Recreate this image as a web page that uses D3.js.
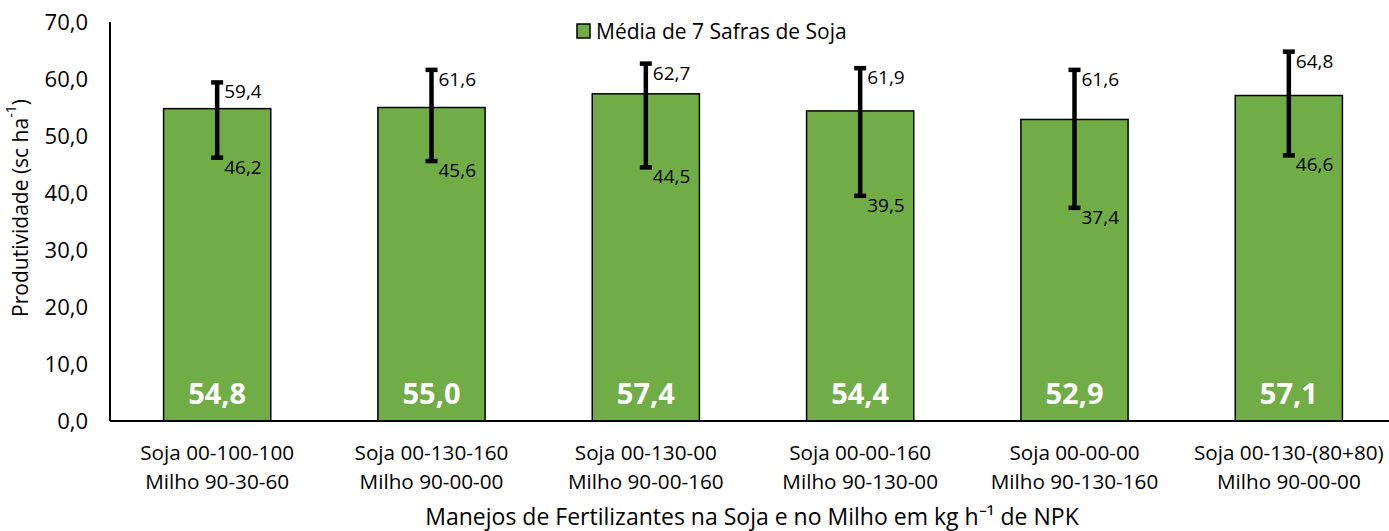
<!DOCTYPE html>
<html>
<head>
<meta charset="utf-8">
<script src="https://cdn.jsdelivr.net/npm/d3@7"></script>
<style>
  body { margin: 0; background: #fff; }
  svg { display: block; font-family: "Open Sans", sans-serif; }
</style>
</head>
<body>
<div id="chart"></div>
<script>
// Categories (two-line labels) and values.
const categories = [
  ['Soja 00-100-100', 'Milho 90-30-60'],
  ['Soja 00-130-160', 'Milho 90-00-00'],
  ['Soja 00-130-00', 'Milho 90-00-160'],
  ['Soja 00-00-160', 'Milho 90-130-00'],
  ['Soja 00-00-00', 'Milho 90-130-160'],
  ['Soja 00-130-(80+80)', 'Milho 90-00-00']
];
const means = [54.8, 55.0, 57.4, 54.4, 52.9, 57.1];
const highs = [59.4, 61.6, 62.7, 61.9, 61.6, 64.8];
const lows = [46.2, 45.6, 44.5, 39.5, 37.4, 46.6];
const yTicks = [0, 10, 20, 30, 40, 50, 60, 70];

const width = 1389, height = 531;
const margin = {top: 22, right: -7, bottom: 110, left: 110};
const fmt = v => v.toFixed(1).replace('.', ',');

const svg = d3.select('#chart').append('svg')
  .attr('width', width).attr('height', height);

const x = d3.scaleBand()
  .domain(d3.range(categories.length))
  .range([margin.left, width - margin.right])
  .paddingInner(0.5).paddingOuter(0.25);

const y = d3.scaleLinear()
  .domain([0, 70])
  .range([height - margin.bottom, margin.top]);

const green = '#70AD47';

// Y axis tick labels, no tick marks
const yAxis = svg.append('g')
  .attr('transform', `translate(${margin.left},0)`)
  .call(d3.axisLeft(y).tickValues(yTicks).tickSize(0).tickPadding(22).tickFormat(fmt));
yAxis.select('.domain').remove();
yAxis.selectAll('text').attr('font-size', 22).attr('fill', '#000').attr('font-family', '"Open Sans", sans-serif');

// Bars
const data = means.map((m, i) => ({i, m, hi: highs[i], lo: lows[i]}));

svg.append('g').selectAll('rect')
  .data(data).join('rect')
  .attr('x', d => x(d.i))
  .attr('y', d => y(d.m))
  .attr('width', x.bandwidth())
  .attr('height', d => y(0) - y(d.m))
  .attr('fill', green)
  .attr('stroke', '#000')
  .attr('stroke-width', 1.5);

// Axis lines
svg.append('line')
  .attr('x1', margin.left).attr('x2', margin.left)
  .attr('y1', y(70)).attr('y2', y(0))
  .attr('stroke', '#000').attr('stroke-width', 2);
svg.append('line')
  .attr('x1', margin.left).attr('x2', width)
  .attr('y1', y(0)).attr('y2', y(0))
  .attr('stroke', '#000').attr('stroke-width', 2);

// Mean labels inside bars
svg.append('g').selectAll('text')
  .data(data).join('text')
  .attr('x', d => x(d.i) + x.bandwidth() / 2)
  .attr('y', y(0) - 29)
  .attr('text-anchor', 'middle')
  .attr('dominant-baseline', 'central')
  .attr('fill', '#fff')
  .attr('font-weight', 'bold')
  .attr('font-size', 29)
  .text(d => fmt(d.m));

// Error bars
const eb = svg.append('g').selectAll('g')
  .data(data).join('g')
  .attr('transform', d => `translate(${x(d.i) + x.bandwidth() / 2},0)`);

eb.append('line')
  .attr('y1', d => y(d.hi)).attr('y2', d => y(d.lo))
  .attr('stroke', '#000').attr('stroke-width', 4.5);
eb.selectAll('line.cap')
  .data(d => [d.hi, d.lo]).join('line')
  .attr('class', 'cap')
  .attr('x1', -6).attr('x2', 6)
  .attr('y1', v => y(v)).attr('y2', v => y(v))
  .attr('stroke', '#000').attr('stroke-width', 4.5);
eb.selectAll('text')
  .data(d => [d.hi, d.lo]).join('text')
  .attr('x', 7)
  .attr('y', v => y(v) + 9)
  .attr('dominant-baseline', 'central')
  .attr('font-size', 19)
  .attr('fill', '#000')
  .text(v => fmt(v));

// Category labels
const cat = svg.append('g').selectAll('text')
  .data(categories).join('text')
  .attr('x', (d, i) => x(i) + x.bandwidth() / 2)
  .attr('y', 453)
  .attr('text-anchor', 'middle')
  .attr('font-size', 20.7)
  .attr('fill', '#000');
cat.selectAll('tspan')
  .data(d => d).join('tspan')
  .attr('x', function() { return this.parentNode.getAttribute('x'); })
  .attr('dy', (d, j) => j === 0 ? '0.35em' : 29)
  .text(d => d);

// Axis titles
svg.append('text')
  .attr('transform', 'translate(20,208) rotate(-90)')
  .attr('text-anchor', 'middle')
  .attr('dominant-baseline', 'central')
  .attr('font-size', 21)
  .attr('fill', '#000')
  .html('Produtividade (sc ha<tspan baseline-shift="super" font-size="14">-1</tspan>)');

svg.append('text')
  .attr('x', 752)
  .attr('y', 516)
  .attr('text-anchor', 'middle')
  .attr('dominant-baseline', 'central')
  .attr('font-size', 23)
  .attr('fill', '#000')
  .text('Manejos de Fertilizantes na Soja e no Milho em kg h\u207B\u00B9 de NPK');

// Legend
const legend = svg.append('g').attr('transform', 'translate(577,31)');
legend.append('rect')
  .attr('x', 0).attr('y', -7)
  .attr('width', 13).attr('height', 14)
  .attr('fill', green).attr('stroke', '#000').attr('stroke-width', 1.5);
legend.append('text')
  .attr('x', 19).attr('y', 0)
  .attr('dominant-baseline', 'central')
  .attr('font-size', 21)
  .attr('fill', '#000')
  .text('Média de 7 Safras de Soja');
</script>
</body>
</html>
